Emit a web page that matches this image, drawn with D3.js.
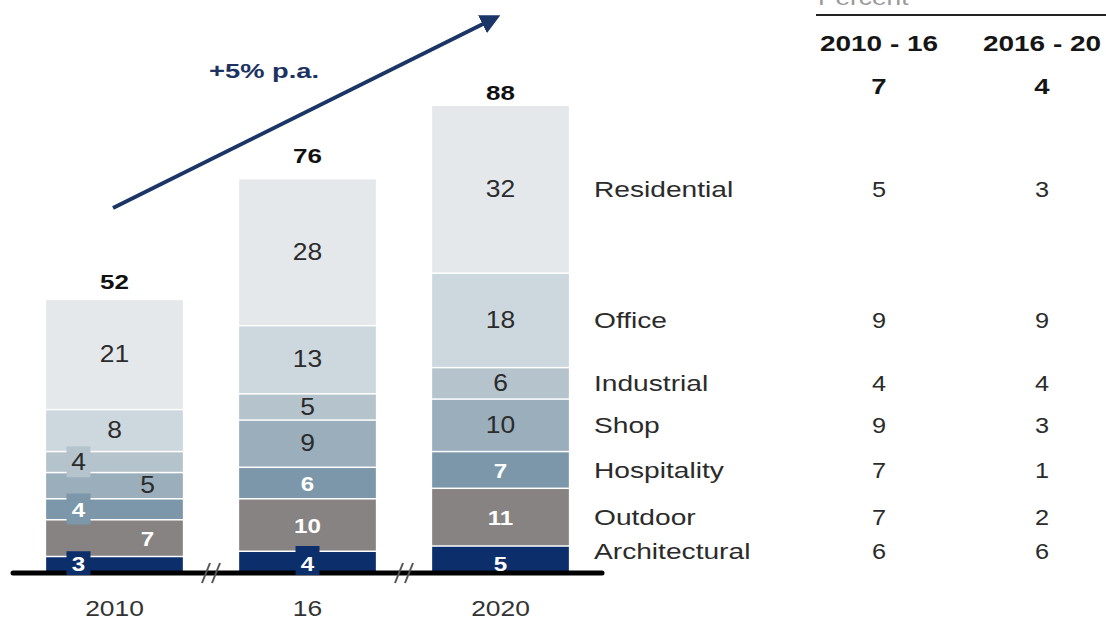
<!DOCTYPE html>
<html>
<head>
<meta charset="utf-8">
<script src="https://cdn.jsdelivr.net/npm/d3@7"></script>
<style>
  html, body { margin: 0; padding: 0; background: #fff; }
  svg { display: block; }
  text { font-family: "Liberation Sans", Arial, sans-serif; }
</style>
</head>
<body>
<svg id="chart" width="1106" height="621"></svg>
<script>
// ---- data ----
const years = ["2010", "16", "2020"];
const segments = ["Architectural", "Outdoor", "Hospitality", "Shop", "Industrial", "Office", "Residential"];
const architectural = [3, 4, 5];
const outdoor = [7, 10, 11];
const hospitality = [4, 6, 7];
const shop = [5, 9, 10];
const industrial = [4, 5, 6];
const office = [8, 13, 18];
const residential = [21, 28, 32];
const totals = [52, 76, 88];
const growthLabel = "+5% p.a.";
const tableTitle = "Percent";
const periods = ["2010 - 16", "2016 - 20"];
const totalGrowth = [7, 4];
const growth2010to16 = [6, 7, 7, 9, 4, 9, 5];   // same order as segments
const growth2016to20 = [6, 2, 1, 3, 4, 9, 3];

// ---- build stack ----
const seriesValues = [architectural, outdoor, hospitality, shop, industrial, office, residential];
const rows = years.map((yr, i) => {
  const r = { year: yr };
  segments.forEach((s, k) => { r[s] = seriesValues[k][i]; });
  return r;
});
const stacked = d3.stack().keys(segments)(rows);

const colors = {
  Architectural: "#0c2f6b",
  Outdoor: "#878382",
  Hospitality: "#7b97a9",
  Shop: "#9aaebc",
  Industrial: "#b5c3cc",
  Office: "#cdd7de",
  Residential: "#e4e8eb"
};
const whiteLabel = new Set(["Architectural", "Outdoor", "Hospitality"]);

const svg = d3.select("#chart");

const x = d3.scaleBand().domain(years).range([18, 597]).paddingInner(0.2917).paddingOuter(0.1458);
const y = d3.scaleLinear().domain([0, 89]).range([572, 105]);

// text stretched horizontally
function sText(g, px, py, str, o) {
  return g.append("text")
    .attr("transform", `translate(${px},${py}) scale(${o.sx || 1},1)`)
    .attr("text-anchor", o.anchor || "middle")
    .attr("font-size", o.size)
    .attr("font-weight", o.bold ? "bold" : "normal")
    .attr("fill", o.fill || "#2b2b2b")
    .text(str);
}

// ---- bars ----
const gBars = svg.append("g");
stacked.forEach(layer => {
  gBars.selectAll(null)
    .data(layer)
    .join("rect")
    .attr("x", d => x(d.data.year))
    .attr("width", x.bandwidth())
    .attr("y", d => y(d[1]) + 1)
    .attr("height", d => Math.max(0, y(d[0]) - y(d[1]) - 1.5))
    .attr("fill", colors[layer.key]);
});

// ---- baseline with breaks ----
svg.append("line")
  .attr("x1", 13).attr("x2", 602).attr("y1", 573).attr("y2", 573)
  .attr("stroke", "#000").attr("stroke-width", 5)
  .attr("stroke-linecap", "round");
const breaks = [
  (x(years[0]) + x.bandwidth() + x(years[1])) / 2,
  (x(years[1]) + x.bandwidth() + x(years[2])) / 2
];
breaks.forEach(bx => {
  [-5, 5].forEach(dx => {
    svg.append("line")
      .attr("x1", bx + dx - 4).attr("y1", 583)
      .attr("x2", bx + dx + 4).attr("y2", 563)
      .attr("stroke", "#555").attr("stroke-width", 2);
  });
});

// label offsets inside the first bar, where segments are thin
const shift2010 = { Architectural: -36, Outdoor: 33, Hospitality: -36, Shop: 33, Industrial: -36, Office: 0, Residential: 0 };
const boxed2010 = new Set(["Architectural", "Hospitality", "Industrial"]);

const gLab = svg.append("g");
stacked.forEach(layer => {
  layer.forEach((d, i) => {
    const key = layer.key;
    const val = d.data[key];
    const cx = x(d.data.year) + x.bandwidth() / 2 + (i === 0 ? shift2010[key] : 0);
    let cy = (y(d[0]) + y(d[1])) / 2;
    if (key === "Architectural") cy = y(d[0]) - 9;
    const boxed = (i === 0 && boxed2010.has(key)) || (i === 1 && key === "Architectural");
    if (boxed) {
      const top = y(d[1]) - 5;
      const bottom = key === "Architectural" ? y(d[0]) + 3 : y(d[0]) + 5;
      gLab.append("rect")
        .attr("x", cx - 12).attr("width", 24)
        .attr("y", top).attr("height", bottom - top)
        .attr("fill", colors[key]);
    }
    const white = whiteLabel.has(key);
    sText(gLab, cx, cy + 8, val, {
      size: white ? 21 : 23, bold: white, sx: 1.15,
      fill: white ? "#ffffff" : "#2b2b2b"
    });
  });
});

// ---- category axis labels ----
years.forEach(yr => {
  sText(svg, x(yr) + x.bandwidth() / 2, 616, yr, { size: 22, sx: 1.2, fill: "#333" });
});

// ---- totals ----
years.forEach((yr, i) => {
  sText(svg, x(yr) + x.bandwidth() / 2, y(totals[i]) - 10, totals[i], { size: 20, bold: true, sx: 1.3, fill: "#111" });
});

// ---- growth arrow ----
const defs = svg.append("defs");
defs.append("marker")
  .attr("id", "head").attr("viewBox", "0 0 10 10")
  .attr("refX", 7).attr("refY", 5)
  .attr("markerWidth", 5).attr("markerHeight", 5)
  .attr("orient", "auto")
  .append("path").attr("d", "M0,0 L10,5 L0,10 Z").attr("fill", "#1b3566");
svg.append("line")
  .attr("x1", 113).attr("y1", 208).attr("x2", 495).attr("y2", 18)
  .attr("stroke", "#1b3566").attr("stroke-width", 4)
  .attr("marker-end", "url(#head)");
sText(svg, 264, 78, growthLabel, { size: 21, bold: true, sx: 1.3, fill: "#1c3260" });

// ---- segment names (beside last bar) ----
const last = years.length - 1;
stacked.forEach(layer => {
  const d = layer[last];
  let cy = (y(d[0]) + y(d[1])) / 2;
  if (layer.key === "Architectural") cy -= 8;
  sText(svg, 594, cy + 8, layer.key, { size: 22, sx: 1.28, anchor: "start", fill: "#2b2b2b" });
});

// ---- growth table ----
const colX = [879, 1042];
sText(svg, 818, 5, tableTitle, { size: 21, sx: 1.25, anchor: "start", fill: "#9a9a9a" });
svg.append("line")
  .attr("x1", 816).attr("x2", 1106).attr("y1", 15).attr("y2", 15)
  .attr("stroke", "#222").attr("stroke-width", 2);
periods.forEach((p, j) => {
  sText(svg, colX[j], 51, p, { size: 22, bold: true, sx: 1.27, fill: "#151515" });
  sText(svg, colX[j], 94, totalGrowth[j], { size: 22, bold: true, sx: 1.25, fill: "#151515" });
});
stacked.forEach((layer, k) => {
  const d = layer[last];
  let cy = (y(d[0]) + y(d[1])) / 2;
  if (layer.key === "Architectural") cy -= 8;
  sText(svg, colX[0], cy + 8, growth2010to16[k], { size: 22, sx: 1.15, fill: "#2b2b2b" });
  sText(svg, colX[1], cy + 8, growth2016to20[k], { size: 22, sx: 1.15, fill: "#2b2b2b" });
});
</script>
</body>
</html>
